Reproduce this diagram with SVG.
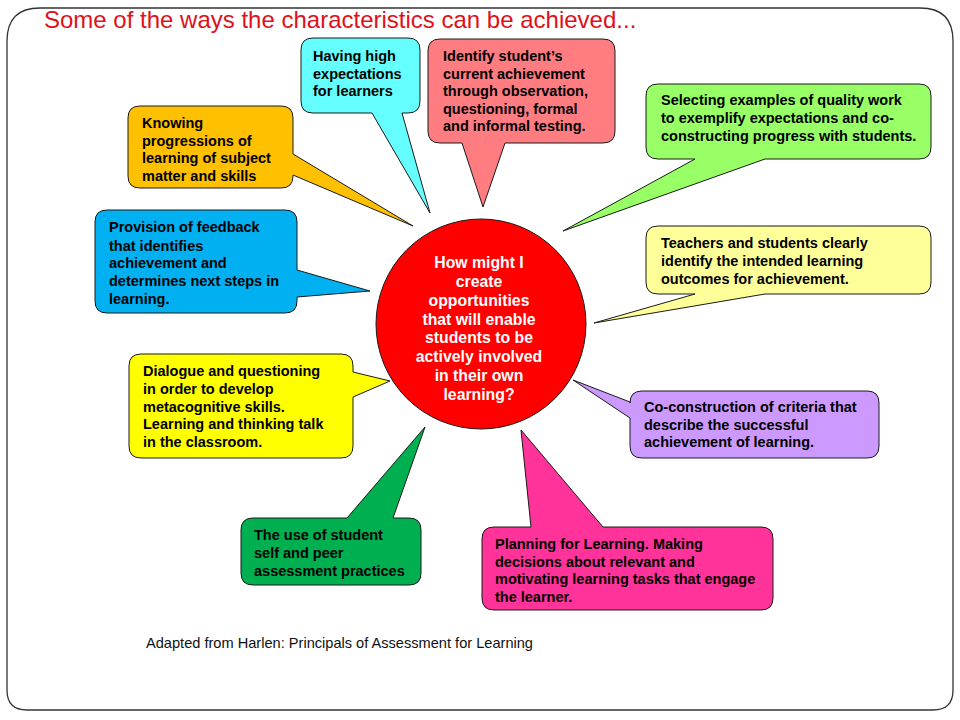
<svg xmlns="http://www.w3.org/2000/svg" width="960" height="720" viewBox="0 0 960 720">
<style>
.bub{stroke:#1a1a1a;stroke-width:1;stroke-linejoin:miter}
.t{font-family:"Liberation Sans",Arial,sans-serif;font-size:14.5px;font-weight:bold;fill:#000}
.w{font-family:"Liberation Sans",Arial,sans-serif;font-size:15.8px;font-weight:bold;fill:#fff;text-anchor:middle}
</style>
<rect width="960" height="720" fill="#fff"/>
<path id="frame" d="M40,8 H920 Q953,8 953,41 V690 Q953,710 933,710 H27 Q7,710 7,690 V41 Q7,8 40,8 Z" fill="none" stroke="#333" stroke-width="1.3"/>
<text x="44" y="28" font-family="Liberation Sans,Arial,sans-serif" font-size="24" fill="#E0101A">Some of the ways the characteristics can be achieved...</text>

<g id="connectors"></g>

<g id="n-expectations">
<path class="bub" fill="#66FFFF" d="M313,38 H408 Q420,38 420,50 V101 Q420,113 408,113 H402 L430,213 L372,113 H313 Q301,113 301,101 V50 Q301,38 313,38 Z"/>
<text class="t"><tspan x="313" y="61">Having high</tspan><tspan x="313" y="78.5">expectations</tspan><tspan x="313" y="96">for learners</tspan></text>
</g>

<g id="n-identify">
<path class="bub" fill="#FF7C80" d="M440,39 H603 Q615,39 615,51 V131 Q615,143 603,143 H505 L483,207 L462,143 H440 Q428,143 428,131 V51 Q428,39 440,39 Z"/>
<text class="t"><tspan x="443" y="61">Identify student’s</tspan><tspan x="443" y="78.5">current achievement</tspan><tspan x="443" y="96">through observation,</tspan><tspan x="443" y="113.5">questioning, formal</tspan><tspan x="443" y="131">and informal testing.</tspan></text>
</g>

<g id="n-selecting">
<path class="bub" fill="#99FF66" d="M658,84 H919 Q931,84 931,96 V147 Q931,159 919,159 H765 L563,231 L695,159 H658 Q646,159 646,147 V96 Q646,84 658,84 Z"/>
<text class="t"><tspan x="661" y="105">Selecting examples of quality work</tspan><tspan x="661" y="123">to exemplify expectations and co-</tspan><tspan x="661" y="141">constructing progress with students.</tspan></text>
</g>

<g id="n-teachers">
<path class="bub" fill="#FFFF99" d="M658,226 H919 Q931,226 931,238 V282 Q931,294 919,294 H765 L594,323 L695,294 H658 Q646,294 646,282 V238 Q646,226 658,226 Z"/>
<text class="t"><tspan x="661" y="248">Teachers and students clearly</tspan><tspan x="661" y="266">identify the intended learning</tspan><tspan x="661" y="284">outcomes for achievement.</tspan></text>
</g>

<g id="n-knowing">
<path class="bub" fill="#FFC000" d="M140,106 H281 Q293,106 293,118 V154 L413,226 L293,175 V176 Q293,188 281,188 H140 Q128,188 128,176 V118 Q128,106 140,106 Z"/>
<text class="t"><tspan x="142" y="128">Knowing</tspan><tspan x="142" y="146">progressions of</tspan><tspan x="142" y="163">learning of subject</tspan><tspan x="142" y="181">matter and skills</tspan></text>
</g>

<g id="n-feedback">
<path class="bub" fill="#00B0F0" d="M107,210 H285 Q297,210 297,222 V270 L370,291 L297,297 V301 Q297,313 285,313 H107 Q95,313 95,301 V222 Q95,210 107,210 Z"/>
<text class="t"><tspan x="109" y="232">Provision of feedback</tspan><tspan x="109" y="251">that identifies</tspan><tspan x="109" y="268">achievement and</tspan><tspan x="109" y="286">determines next steps in</tspan><tspan x="109" y="304">learning.</tspan></text>
</g>

<g id="n-dialogue">
<path class="bub" fill="#FFFF00" d="M141,354 H341 Q353,354 353,366 V372 L390,381 L353,397 V446 Q353,458 341,458 H141 Q129,458 129,446 V366 Q129,354 141,354 Z"/>
<text class="t"><tspan x="143" y="376">Dialogue and questioning</tspan><tspan x="143" y="394">in order to develop</tspan><tspan x="143" y="412">metacognitive skills.</tspan><tspan x="143" y="429">Learning and thinking talk</tspan><tspan x="143" y="447">in the classroom.</tspan></text>
</g>

<g id="n-coconstruction">
<path class="bub" fill="#CC99FF" d="M642,391 H867 Q879,391 879,403 V446 Q879,458 867,458 H642 Q630,458 630,446 V418 L573,380 L630,402 V403 Q630,391 642,391 Z"/>
<text class="t"><tspan x="644" y="412">Co-construction of criteria that</tspan><tspan x="644" y="430">describe the successful</tspan><tspan x="644" y="447">achievement of learning.</tspan></text>
</g>

<g id="n-selfpeer">
<path class="bub" fill="#00B050" d="M253,518 H347 L425,427 L393,518 H409 Q421,518 421,530 V573 Q421,585 409,585 H253 Q241,585 241,573 V530 Q241,518 253,518 Z"/>
<text class="t"><tspan x="254" y="540">The use of student</tspan><tspan x="254" y="558">self and peer</tspan><tspan x="254" y="576">assessment practices</tspan></text>
</g>

<g id="n-planning">
<path class="bub" fill="#FF3399" d="M494,527 H531 L521,430 L603,527 H761 Q773,527 773,539 V598 Q773,610 761,610 H494 Q482,610 482,598 V539 Q482,527 494,527 Z"/>
<text class="t"><tspan x="495" y="549">Planning for Learning. Making</tspan><tspan x="495" y="567">decisions about relevant and</tspan><tspan x="495" y="584">motivating learning tasks that engage</tspan><tspan x="495" y="602">the learner.</tspan></text>
</g>

<g id="n-center">
<circle cx="481" cy="324" r="105" fill="#FF0000" stroke="#1a1a1a" stroke-width="1"/>
<text class="w"><tspan x="479" y="268">How might I</tspan><tspan x="479" y="287">create</tspan><tspan x="479" y="306">opportunities</tspan><tspan x="479" y="325">that will enable</tspan><tspan x="479" y="343">students to be</tspan><tspan x="479" y="362">actively involved</tspan><tspan x="479" y="381">in their own</tspan><tspan x="479" y="400">learning?</tspan></text>
</g>

<text x="146" y="648" font-family="Liberation Sans,Arial,sans-serif" font-size="14.5" fill="#111" textLength="387" lengthAdjust="spacingAndGlyphs">Adapted from Harlen: Principals of Assessment for Learning</text>
</svg>
